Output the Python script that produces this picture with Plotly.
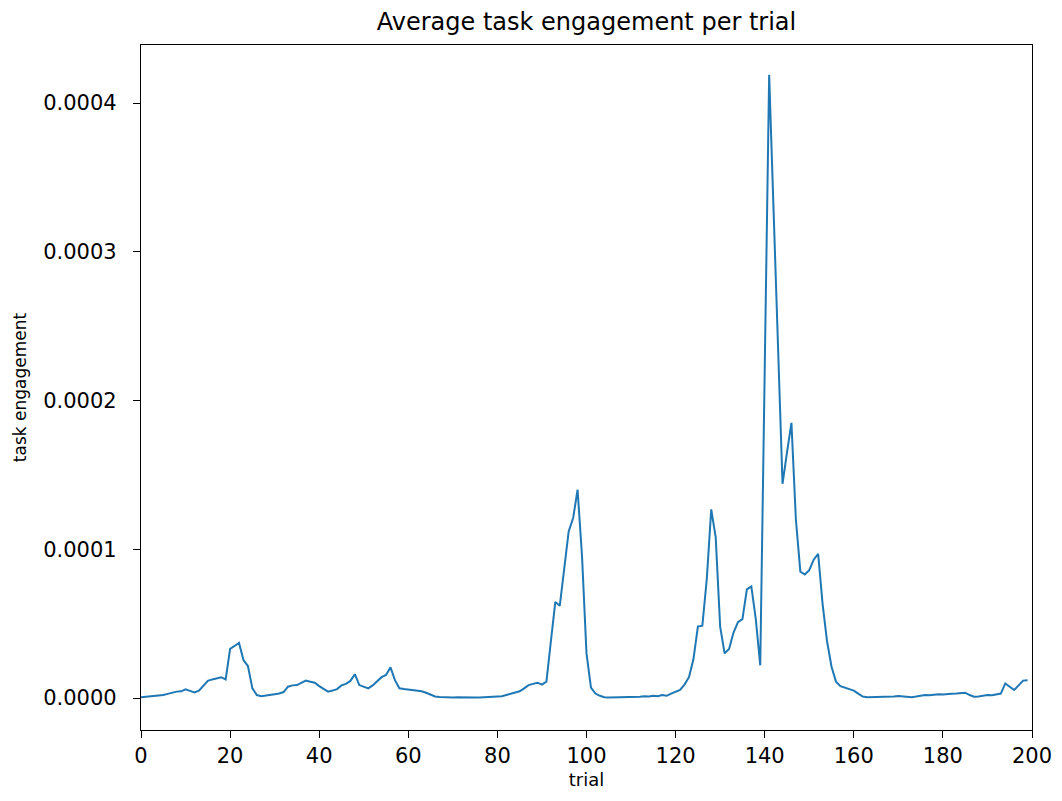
import plotly.graph_objects as go

# trial index 0..199
trials = list(range(200))

# average task engagement per trial, in units of 1e-5
engagement_e5 = [
    # 0-19
    0.05, 0.08, 0.10, 0.12, 0.15, 0.20, 0.28, 0.38, 0.43, 0.45,
    0.58, 0.48, 0.38, 0.50, 0.80, 1.15, 1.25, 1.30, 1.40, 1.25,
    # 20-39
    3.30, 3.50, 3.70, 2.55, 2.15, 0.65, 0.20, 0.12, 0.15, 0.20,
    0.25, 0.30, 0.40, 0.76, 0.85, 0.87, 1.00, 1.17, 1.10, 1.03,
    # 40-59
    0.80, 0.60, 0.43, 0.50, 0.60, 0.85, 0.95, 1.15, 1.60, 0.87,
    0.75, 0.65, 0.85, 1.10, 1.40, 1.55, 2.06, 1.20, 0.65, 0.60,
    # 60-79
    0.56, 0.55, 0.50, 0.45, 0.35, 0.25, 0.10, 0.07, 0.05, 0.04,
    0.04, 0.05, 0.06, 0.05, 0.04, 0.04, 0.04, 0.05, 0.05, 0.06,
    # 80-99
    0.08, 0.12, 0.20, 0.30, 0.40, 0.45, 0.65, 0.87, 0.95, 1.03,
    0.90, 1.10, 3.80, 6.46, 6.20, 8.60, 11.20, 12.10, 14.00, 9.50,
    # 100-119
    3.00, 0.70, 0.30, 0.15, 0.05, 0.03, 0.03, 0.03, 0.04, 0.04,
    0.05, 0.06, 0.08, 0.12, 0.10, 0.15, 0.12, 0.20, 0.15, 0.30,
    # 120-139
    0.40, 0.54, 0.90, 1.40, 2.60, 4.80, 4.86, 8.00, 12.68, 10.80,
    4.80, 3.00, 3.30, 4.40, 5.10, 5.30, 7.30, 7.50, 5.30, 2.20,
    # 140-159
    22.00, 41.90, 32.70, 23.60, 14.40, 16.50, 18.50, 12.00, 8.50, 8.30,
    8.60, 9.30, 9.70, 6.30, 3.80, 2.10, 1.10, 0.80, 0.70, 0.60,
    # 160-179
    0.50, 0.30, 0.10, 0.06, 0.06, 0.07, 0.07, 0.08, 0.09, 0.10,
    0.13, 0.10, 0.05, 0.06, 0.10, 0.15, 0.20, 0.18, 0.22, 0.25,
    # 180-199
    0.23, 0.27, 0.28, 0.30, 0.33, 0.36, 0.20, 0.09, 0.10, 0.15,
    0.20, 0.18, 0.22, 0.30, 0.98, 0.75, 0.54, 0.85, 1.17, 1.20,
]
engagement = [v * 1e-5 for v in engagement_e5]

x_ticks = [0, 20, 40, 60, 80, 100, 120, 140, 160, 180, 200]
y_ticks = [0.0, 0.0001, 0.0002, 0.0003, 0.0004]

fig = go.Figure()
fig.add_trace(go.Scatter(
    x=trials, y=engagement, mode="lines",
    line=dict(color="#1f77b4", width=2),
    showlegend=False,
))

axis_common = dict(
    showline=True, linecolor="black", linewidth=1.2, mirror=True,
    ticks="outside", ticklen=7, tickcolor="black", tickwidth=1.2,
    showgrid=False, zeroline=False,
    tickfont=dict(family="DejaVu Sans", size=21, color="black"),
)

fig.update_layout(
    width=1062, height=801,
    paper_bgcolor="white", plot_bgcolor="white",
    margin=dict(l=133, r=38, t=37, b=79),
    title=dict(text="Average task engagement per trial",
               x=0.5, xanchor="center", y=0.983, yanchor="middle",
               xref="paper",
               font=dict(family="DejaVu Sans", size=24, color="black")),
    xaxis=dict(range=[0, 200], tickvals=x_ticks,
               title=dict(text="trial", standoff=6,
                          font=dict(family="DejaVu Sans", size=18, color="black")),
               **axis_common),
    yaxis=dict(range=[-0.0000215, 0.000439], tickvals=y_ticks, tickformat=".4f",
               ticklabelstandoff=12,
               title=dict(text="task engagement", standoff=12,
                          font=dict(family="DejaVu Sans", size=17, color="black")),
               **axis_common),
)

fig.write_html("out.html")
